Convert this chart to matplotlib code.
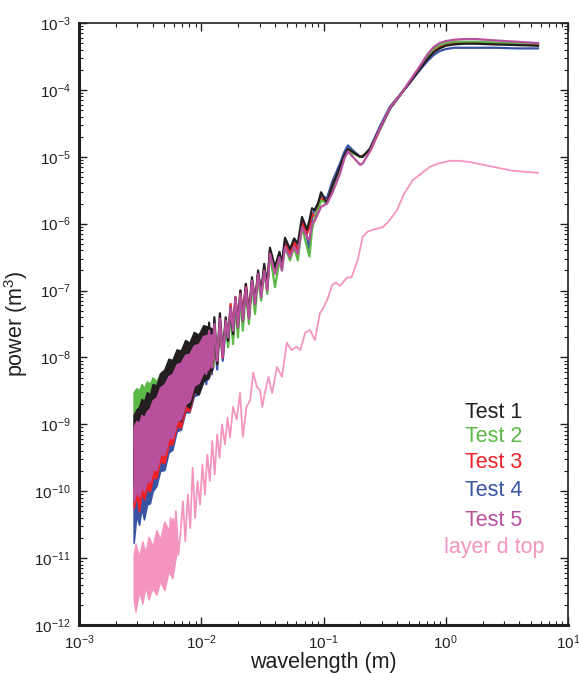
import numpy as np
import matplotlib
matplotlib.use("Agg")
import matplotlib.pyplot as plt
from matplotlib.ticker import LogLocator, NullFormatter, FixedLocator

plt.rcParams['font.family'] = ['Liberation Sans', 'DejaVu Sans']
plt.rcParams['mathtext.default'] = 'regular'

# ---------------- data (power given as log10 exponents, m^3) ----------------
series_names = ["Test 1", "Test 2", "Test 3", "Test 4", "Test 5", "layer d top"]
series_colors = ["#231f20", "#5cb947", "#ee2229", "#3a54a4", "#b8509e", "#f495c0"]

x_ticks = [1e-3, 1e-2, 1e-1, 1e0, 1e1]
y_ticks = [1e-12, 1e-11, 1e-10, 1e-9, 1e-8, 1e-7, 1e-6, 1e-5, 1e-4, 1e-3]

# dense noisy part (short wavelengths): lower / upper envelope of the spectra
band_x = [0.0028, 0.00295, 0.0031, 0.00325, 0.0034, 0.0036, 0.0038, 0.0040, 0.0043,
          0.0046, 0.0050, 0.0054, 0.0058, 0.0063, 0.0068, 0.0074, 0.0080, 0.0087,
          0.0095, 0.0104, 0.0114, 0.0125]

test1_band_hi = [-8.86, -8.78, -8.74, -8.62, -8.66, -8.52, -8.56, -8.40, -8.42, -8.24, -8.18,
                 -8.02, -8.04, -7.88, -7.90, -7.74, -7.78, -7.62, -7.66, -7.52, -7.54, -7.58]
test1_band_lo = [-9.90, -9.70, -9.85, -9.55, -9.70, -9.50, -9.55, -9.40, -9.42, -9.22, -9.30,
                 -9.05, -9.12, -8.85, -8.95, -8.70, -8.75, -8.50, -8.55, -8.35, -8.30, -8.00]
test2_band_hi = [-8.52, -8.46, -8.50, -8.40, -8.46, -8.36, -8.40, -8.30, -8.36, -8.25, -8.30,
                 -8.16, -8.22, -8.08, -8.12, -7.98, -8.02, -7.88, -7.90, -7.76, -7.78, -7.72]
test2_band_lo = [-9.30, -9.20, -9.25, -9.10, -9.15, -9.00, -9.05, -8.92, -8.95, -8.82, -8.85,
                 -8.70, -8.72, -8.58, -8.60, -8.45, -8.48, -8.35, -8.35, -8.22, -8.25, -8.10]
test3_band_hi = [-9.10, -9.00, -9.05, -8.90, -8.95, -8.85, -8.80, -8.70, -8.62, -8.50, -8.42,
                 -8.32, -8.28, -8.15, -8.12, -8.02, -7.98, -7.88, -7.84, -7.74, -7.70, -7.70]
test3_band_lo = [-10.25, -10.05, -10.30, -10.00, -10.12, -9.95, -10.00, -9.80, -9.80, -9.55, -9.58,
                 -9.30, -9.30, -9.02, -9.05, -8.78, -8.80, -8.52, -8.50, -8.30, -8.30, -8.10]
test4_band_hi = [-9.15, -9.05, -9.10, -8.95, -9.00, -8.90, -8.85, -8.75, -8.68, -8.55, -8.48,
                 -8.38, -8.32, -8.20, -8.15, -8.06, -8.02, -7.92, -7.88, -7.78, -7.75, -7.75]
test4_band_lo = [-10.77, -10.35, -10.50, -10.25, -10.42, -10.20, -10.18, -10.00, -9.92, -9.70, -9.68,
                 -9.42, -9.38, -9.10, -9.08, -8.82, -8.82, -8.58, -8.55, -8.36, -8.32, -8.15]
test5_band_hi = [-9.04, -8.95, -8.98, -8.86, -8.90, -8.80, -8.76, -8.64, -8.60, -8.45, -8.40,
                 -8.28, -8.25, -8.10, -8.08, -7.96, -7.95, -7.82, -7.80, -7.68, -7.66, -7.66]
test5_band_lo = [-10.15, -10.00, -10.08, -9.92, -10.00, -9.85, -9.85, -9.68, -9.68, -9.45, -9.45,
                 -9.20, -9.20, -8.95, -8.92, -8.70, -8.65, -8.42, -8.38, -8.22, -8.18, -8.00]

# resolved part (longer wavelengths)
line_x = [0.0105, 0.0110, 0.0116, 0.0122, 0.0128, 0.0135, 0.0142, 0.0150,
          0.01585, 0.0166, 0.01738, 0.0182, 0.01905, 0.01995, 0.0209, 0.02188, 0.02317, 0.02455,
          0.026, 0.02754, 0.02917, 0.0309, 0.03273, 0.03467, 0.03648, 0.04009, 0.04365, 0.04571,
          0.04842, 0.05321, 0.05754, 0.06166, 0.06668, 0.07328, 0.07674, 0.08054, 0.08511, 0.09016,
          0.0955, 0.1067, 0.1175, 0.1365, 0.1479, 0.1585, 0.1778, 0.1995, 0.2089, 0.2399,
          0.2884, 0.3499, 0.4467, 0.5012, 0.6166, 0.7079, 0.7943, 0.8913, 1.0, 1.175,
          1.413, 1.778, 2.512, 3.802, 5.689]

test1_line = [-7.55, -8.30, -7.48, -8.20, -7.40, -8.10, -7.34, -7.95,
              -7.40, -7.75, -7.25, -7.65, -7.10, -7.55, -7.00, -7.45, -6.90, -7.40,
              -6.80, -7.20, -6.70, -7.05, -6.60, -6.95, -6.36, -6.65, -6.42, -6.60,
              -6.21, -6.38, -6.22, -6.30, -5.90, -6.09, -5.95, -5.77, -5.80, -5.70,
              -5.53, -5.69, -5.45, -5.15, -4.98, -4.88, -4.94, -5.00, -5.00, -4.88,
              -4.58, -4.28, -4.02, -3.90, -3.68, -3.54, -3.44, -3.38, -3.34, -3.32,
              -3.31, -3.31, -3.32, -3.33, -3.34]
test2_line = [-7.72, -8.22, -7.62, -8.15, -7.55, -8.05, -7.48, -7.95,
              -7.50, -7.85, -7.30, -7.80, -7.20, -7.70, -7.10, -7.60, -7.00, -7.50,
              -6.90, -7.35, -6.80, -7.15, -6.70, -7.05, -6.45, -6.95, -6.55, -6.70,
              -6.35, -6.55, -6.35, -6.55, -6.05, -6.35, -6.49, -6.10, -5.90, -5.80,
              -5.65, -5.70, -5.50, -5.20, -5.02, -4.92, -4.96, -5.00, -5.00, -4.88,
              -4.60, -4.28, -4.02, -3.89, -3.66, -3.50, -3.39, -3.33, -3.30, -3.28,
              -3.28, -3.28, -3.29, -3.30, -3.31]
test3_line = [-7.75, -8.32, -7.68, -8.20, -7.58, -8.10, -7.50, -8.00,
              -7.45, -7.70, -7.20, -7.60, -7.10, -7.50, -7.00, -7.40, -6.90, -7.35,
              -6.85, -7.15, -6.75, -7.05, -6.65, -6.95, -6.40, -6.70, -6.45, -6.60,
              -6.30, -6.45, -6.28, -6.40, -5.98, -6.15, -6.05, -5.85, -5.90, -5.78,
              -5.62, -5.68, -5.45, -5.17, -5.00, -4.90, -4.95, -5.00, -4.98, -4.92,
              -4.60, -4.27, -4.02, -3.90, -3.67, -3.52, -3.41, -3.35, -3.32, -3.30,
              -3.29, -3.29, -3.30, -3.31, -3.32]
test4_line = [-7.80, -8.40, -7.72, -8.25, -7.62, -8.18, -7.55, -8.05,
              -7.55, -7.80, -7.25, -7.70, -7.15, -7.60, -7.05, -7.50, -6.95, -7.40,
              -6.85, -7.25, -6.75, -7.10, -6.65, -6.95, -6.40, -6.70, -6.45, -6.60,
              -6.25, -6.40, -6.25, -6.40, -5.95, -6.20, -6.39, -5.90, -5.78, -5.70,
              -5.58, -5.62, -5.38, -5.10, -4.93, -4.83, -4.92, -5.00, -5.00, -4.88,
              -4.55, -4.25, -4.02, -3.91, -3.70, -3.57, -3.48, -3.42, -3.39, -3.37,
              -3.37, -3.37, -3.37, -3.38, -3.38]
test5_line = [-7.70, -8.25, -7.60, -8.15, -7.50, -8.05, -7.42, -7.98,
              -7.45, -7.70, -7.25, -7.60, -7.10, -7.55, -7.05, -7.45, -6.95, -7.42,
              -6.85, -7.20, -6.75, -7.10, -6.70, -7.00, -6.45, -6.75, -6.50, -6.70,
              -6.35, -6.50, -6.35, -6.45, -6.05, -6.20, -6.25, -6.00, -5.95, -5.85,
              -5.75, -5.70, -5.55, -5.25, -5.03, -4.92, -5.02, -5.12, -5.10, -4.92,
              -4.58, -4.27, -4.02, -3.88, -3.64, -3.47, -3.36, -3.30, -3.27, -3.25,
              -3.24, -3.24, -3.26, -3.28, -3.30]

# layer d top
layer_band_x = [0.0028, 0.0029, 0.0031, 0.0033, 0.0035, 0.0037, 0.0040, 0.0043, 0.0046, 0.0050,
                0.0054, 0.0058, 0.0063]
layer_band_hi = [-10.95, -10.78, -10.98, -10.75, -10.92, -10.68, -10.82, -10.58, -10.72, -10.45,
                 -10.58, -10.40, -10.55]
layer_band_lo = [-11.62, -11.80, -11.50, -11.68, -11.42, -11.62, -11.45, -11.55, -11.35, -11.48,
                 -11.20, -11.30, -10.90]
layer_line_x = [0.0050, 0.0053, 0.0056, 0.0059, 0.0062, 0.0065,
                0.00681, 0.00708, 0.00741, 0.00776, 0.00813, 0.00851, 0.00891, 0.00933, 0.00977, 0.01023,
                0.01072, 0.01122, 0.01175, 0.01230, 0.01288, 0.01349, 0.01413, 0.01479, 0.01563, 0.01641,
                0.01718, 0.01820, 0.01950, 0.02075, 0.02188, 0.02344, 0.02512, 0.02661, 0.02851, 0.03020,
                0.03162, 0.03311, 0.03548, 0.03802, 0.04169, 0.04571, 0.05012, 0.05495, 0.06026, 0.06457,
                0.07079, 0.07762, 0.08511, 0.09333, 0.09772, 0.1072, 0.1175, 0.1259, 0.1365, 0.1549,
                0.1698, 0.1905, 0.2089, 0.2291, 0.2541, 0.3069, 0.3467, 0.3981, 0.4571, 0.5370,
                0.6310, 0.7413, 0.8710, 1.084, 1.318, 1.585, 2.291, 3.548, 5.689]
layer_line = [-10.50, -11.20, -10.40, -11.10, -10.30, -10.95,
              -10.55, -10.15, -10.75, -10.05, -10.55, -9.65, -10.40, -9.85, -10.20, -9.60,
              -10.05, -9.45, -9.85, -9.25, -9.75, -9.15, -9.50, -9.00, -9.30, -8.90,
              -9.20, -8.74, -8.93, -8.53, -9.19, -8.74, -8.64, -8.23, -8.44, -8.49,
              -8.74, -8.53, -8.29, -8.53, -8.14, -8.29, -7.78, -7.89, -7.84, -7.89,
              -7.63, -7.59, -7.74, -7.34, -7.29, -7.14, -6.92, -6.88, -6.93, -6.81,
              -6.80, -6.54, -6.20, -6.12, -6.09, -6.05, -5.95, -5.80, -5.55, -5.35,
              -5.25, -5.15, -5.10, -5.06, -5.06, -5.08, -5.14, -5.21, -5.24]

# ---------------- figure ----------------
fig = plt.figure(figsize=(5.79, 6.74), dpi=100)
ax = fig.add_axes([79/579, 1-625/674, (568-79)/579, (625-23)/674])
ax.set_xscale('log')
ax.set_yscale('log')

def p(v):
    return np.power(10.0, np.asarray(v, dtype=float))

# pink first
c = series_colors[5]
ax.fill_between(layer_band_x, p(layer_band_lo), p(layer_band_hi), facecolor=c, edgecolor=c, lw=1.0, zorder=2)
ax.plot(layer_line_x, p(layer_line), color=c, lw=1.3, zorder=2)

tests = [
    (3, test4_band_lo, test4_band_hi, test4_line),
    (2, test3_band_lo, test3_band_hi, test3_line),
    (1, test2_band_lo, test2_band_hi, test2_line),
    (0, test1_band_lo, test1_band_hi, test1_line),
    (4, test5_band_lo, test5_band_hi, test5_line),
]
for z, (i, lo, hi, ln) in enumerate(tests):
    c = series_colors[i]
    ax.fill_between(band_x, p(lo), p(hi), facecolor=c, edgecolor=c, lw=1.2, zorder=3 + z)
    ax.plot(line_x, p(ln), color=c, lw=1.6, zorder=3 + z)

ax.set_xlim(1e-3, 1e1)
ax.set_ylim(1e-12, 1e-3)

ax.xaxis.set_major_locator(FixedLocator(x_ticks))
ax.yaxis.set_major_locator(FixedLocator(y_ticks))
ax.xaxis.set_minor_locator(LogLocator(base=10, subs=np.arange(2, 10), numticks=20))
ax.yaxis.set_minor_locator(LogLocator(base=10, subs=np.arange(2, 10), numticks=20))
ax.xaxis.set_minor_formatter(NullFormatter())
ax.yaxis.set_minor_formatter(NullFormatter())

ax.tick_params(which='both', direction='in', top=True, right=True, colors='#231f20',
               labelcolor='#231f20', labelsize=11)
ax.tick_params(which='major', length=6, width=1.0, pad=6)
ax.tick_params(which='minor', length=3, width=0.8)

for side in ['left', 'bottom']:
    ax.spines[side].set_linewidth(2.2)
for side in ['top', 'right']:
    ax.spines[side].set_linewidth(1.2)
for s in ax.spines.values():
    s.set_color('#231f20')

ax.set_xlabel('wavelength (m)', fontsize=15.5, color='#231f20', labelpad=0)
ax.set_ylabel('power (m$^3$)', fontsize=15.5, color='#231f20', labelpad=3)

# coloured text legend
legend_y = [412, 437, 463, 491, 520, 548]
for name, col, yp in zip(series_names, series_colors, legend_y):
    fig.text(494/579, 1 - yp/674, name, color=col, fontsize=15.5, ha='center', va='center')

fig.savefig('out.png', dpi=100)
